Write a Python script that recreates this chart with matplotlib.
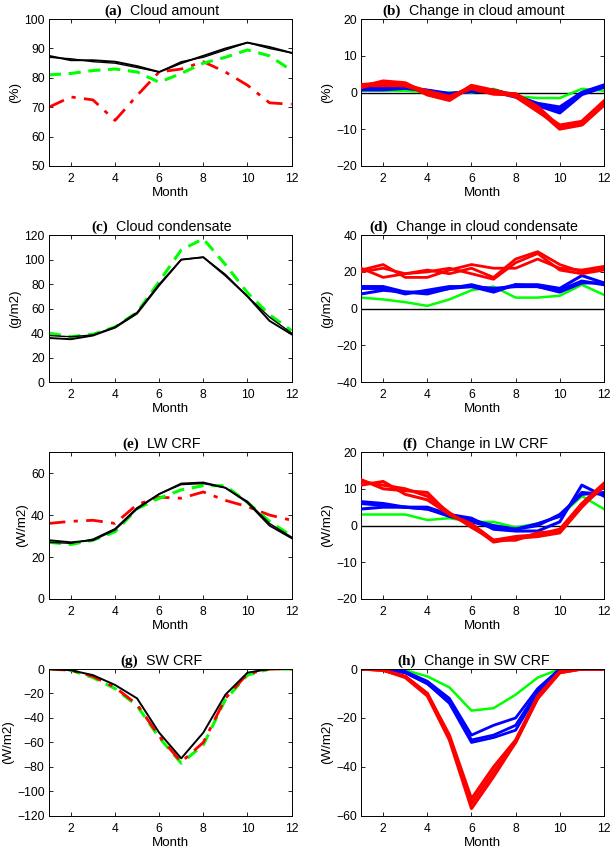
import matplotlib
matplotlib.use("Agg")
import matplotlib.pyplot as plt

plt.rcParams['font.family'] = ['Liberation Sans', 'DejaVu Sans']

months = list(range(1, 13))

# (a) cloud amount (%)
amt_obs1 = [87.5, 86, 86, 85.5, 84, 82, 85, 87.5, 90, 92, 90.5, 88.5]
amt_obs2 = [87, 86.5, 85.5, 85, 83.5, 82, 85.5, 87, 89.5, 92, 90, 88.5]
amt_green = [81, 81.5, 82.5, 83, 82, 78.5, 81.5, 85, 87, 89.5, 87.5, 82.5]
amt_red = [70, 73.5, 72.5, 65.5, 74, 82, 83, 85.5, 82, 77.5, 71.5, 71]

# (b) change in cloud amount (%)
damt_red = [[2, 2.5, 2, 0, -1.5, 1.5, 0, -0.5, -4, -9.5, -8.5, -3],
            [1.5, 3, 2.5, -0.5, -2, 1.8, 0.5, -1, -5, -9, -8, -2.5],
            [2, 2, 2, 0.3, -1.2, 1.2, -0.3, -0.5, -4.5, -9.8, -8.7, -3.3]]
damt_blue = [[1, 1, 1.5, 0.5, -0.5, 0.5, 0.5, -1, -3, -4, 0, 2],
             [1.3, 1.2, 1.5, 0.3, -0.8, 0.7, 0.3, -1.2, -3.5, -5.5, -0.5, 1.5],
             [0.8, 0.8, 1.2, 0.6, -0.3, 0.3, 0.6, -0.8, -3.2, -4.8, -0.2, 1.8]]
damt_green = [0.5, 0.5, 0.5, 0, 0, 0, 1, -1, -1.5, -1.5, 1, 0.5]

# (c) cloud condensate (g/m2)
cond_obs1 = [36, 35, 38, 44.5, 56, 79, 100, 102, 87, 70, 50, 39]
cond_obs2 = [38, 37, 38.5, 45, 57, 80, 100, 102, 88, 70, 53, 40]
cond_green = [40, 37, 39, 45, 57, 82, 108, 117, 96, 73, 55, 42]

# (d) change in cloud condensate (g/m2)
dcond_red = [[22, 17, 19, 21, 19, 22, 17, 27, 31, 24, 20, 22],
             [21, 24, 17, 17, 21, 24, 22, 22, 27, 22, 21, 23],
             [20, 22, 19, 20, 22, 19, 16, 25, 30, 21, 19, 21]]
dcond_blue = [[12, 12, 9, 9, 11, 13, 10, 13, 13, 11, 18, 14],
              [8, 10, 9, 8, 11, 12, 11, 12, 12, 9, 14, 14],
              [11, 11, 8, 10, 12, 12, 9, 13, 12, 10, 15, 13]]
dcond_green = [6, 5, 3.5, 1.5, 5, 10, 12, 6, 6, 7, 13, 7.5]

# (e) LW CRF (W/m2)
lw_obs1 = [28, 27, 28, 33, 43, 50, 55, 55.5, 53, 46, 35, 29]
lw_obs2 = [27, 26.5, 28.5, 33.5, 43.5, 50, 54.5, 55, 53, 46.5, 36, 29.5]
lw_green = [27, 26, 28, 32, 43, 48, 52, 54, 54, 46, 37, 30]
lw_red = [36, 37, 37.5, 36, 45, 48.5, 48, 51, 47, 44, 40, 37.5]

# (f) change in LW CRF (W/m2)
dlw_red = [[12.5, 10, 9.5, 9, 3, 0, -4.5, -3.5, -3, -2, 5, 11],
           [11, 12, 8.5, 7, 3, 0.5, -4, -3, -2.5, -1, 6, 11.5],
           [12, 11, 10, 8, 3.5, -0.5, -4, -4, -2, -1.5, 5.5, 10.5]]
dlw_blue = [[6.5, 6, 5, 5, 3, 2, -1, -1.5, -1.5, 1, 11, 8],
            [4.5, 5, 5, 4.5, 3, 1.5, 0, -1, 0, 3, 8.5, 9],
            [6, 5.5, 5, 4.5, 2.5, 1, -0.5, -1, 0.5, 2.5, 9, 8.5]]
dlw_green = [3, 3, 3, 1.5, 2, 1, 1, -0.5, 0.5, 2.5, 8, 4.5]

# (g) SW CRF (W/m2)
sw_obs = [0, -1, -5, -13, -24, -52, -73, -52, -21, -3, 0, 0]
sw_green = [0, -1, -7, -16, -30, -56, -77, -62, -25, -5, 0, 0]
sw_red = [0, -1, -6, -15, -29, -55, -76, -60, -24, -4, 0, 0]

# (h) change in SW CRF (W/m2)
dsw_red = [[0, -0.5, -3, -10, -28, -55, -42, -30, -12, -1.5, 0, 0],
           [0, -0.5, -3.5, -11, -29, -57, -44, -30, -12, -1.5, 0, 0],
           [0, -0.5, -3, -10, -27, -53, -40, -29, -11, -1, 0, 0]]
dsw_blue = [[0, 0, -1, -5, -12, -27, -23, -20, -8, 0, 0, 0],
            [0, 0, -1.5, -6, -13, -29, -27, -23, -9, -0.5, 0, 0],
            [0, 0, -1.5, -6, -14, -30, -28, -25, -10, -0.5, 0, 0]]
dsw_green = [0, 0, -0.5, -3, -7.5, -17, -16, -10.5, -3.5, 0, 0, 0]

RED = (1, 0, 0)
BLUE = (0, 0, 1)
GREEN = (0, 1, 0)

fig = plt.figure(figsize=(6.1, 8.49), dpi=100)

lefts = [0.080, 0.592]
bottoms = [0.8045, 0.550, 0.2945, 0.039]
w, h = 0.398, 0.173
axes = []
for b in bottoms:
    row = []
    for l in lefts:
        row.append(fig.add_axes([l, b, w, h]))
    axes.append(row)


def style(ax, lab, title, ylim, yticks, ylabel):
    ax.set_xlim(1, 12)
    ax.set_xticks([2, 4, 6, 8, 10, 12])
    ax.set_ylim(*ylim)
    ax.set_yticks(yticks)
    ax.set_yticklabels([str(t).replace('-', '\u2212') for t in yticks])
    ax.tick_params(direction='in', top=True, right=True, labelsize=8.7,
                   length=3, width=0.6)
    ax.tick_params(axis='x', pad=5)
    ax.tick_params(axis='y', pad=3)
    ax.set_xlabel('Month', fontsize=9.6, labelpad=1.5)
    ax.set_ylabel(ylabel, fontsize=9.6, labelpad=2)
    for s in ax.spines.values():
        s.set_linewidth(0.7)
    t = ax.set_title('  ' + title, fontsize=10.3, pad=3)
    ax.annotate(lab, xy=(0, 0), xycoords=t, ha='right', va='bottom',
                fontsize=11, fontweight='bold', family='Liberation Serif')


def change_panel(ax, reds, blues, green, lw_r=3.0, lw_b=2.5):
    ax.axhline(0, color='black', lw=1.0, zorder=1)
    ax.plot(months, green, color=GREEN, lw=1.8, zorder=2)
    for s in blues:
        ax.plot(months, s, color=BLUE, lw=lw_b, zorder=3)
    for s in reds:
        ax.plot(months, s, color=RED, lw=lw_r, zorder=4)


# (a)
ax = axes[0][0]
ax.plot(months, amt_red, color=RED, lw=2.0, ls='-.', dashes=(6, 3, 1.5, 3))
ax.plot(months, amt_green, color=GREEN, lw=2.2, ls='--', dashes=(4, 2.5))
ax.plot(months, amt_obs1, color='black', lw=1.4)
ax.plot(months, amt_obs2, color='black', lw=1.0)
style(ax, '(a)', 'Cloud amount', (50, 100), [50, 60, 70, 80, 90, 100], '(%)')

# (b)
ax = axes[0][1]
change_panel(ax, damt_red, damt_blue, damt_green)
style(ax, '(b)', 'Change in cloud amount', (-20, 20), [-20, -10, 0, 10, 20], '(%)')

# (c)
ax = axes[1][0]
ax.plot(months, cond_green, color=GREEN, lw=2.2, ls='--', dashes=(4, 2.5))
ax.plot(months, cond_obs1, color='black', lw=1.4)
ax.plot(months, cond_obs2, color='black', lw=1.0)
style(ax, '(c)', 'Cloud condensate', (0, 120), [0, 20, 40, 60, 80, 100, 120], '(g/m2)')

# (d)
ax = axes[1][1]
change_panel(ax, dcond_red, dcond_blue, dcond_green, lw_r=2.0, lw_b=2.2)
style(ax, '(d)', 'Change in cloud condensate', (-40, 40), [-40, -20, 0, 20, 40], '(g/m2)')

# (e)
ax = axes[2][0]
ax.plot(months, lw_red, color=RED, lw=2.0, ls='-.', dashes=(6, 3, 1.5, 3))
ax.plot(months, lw_green, color=GREEN, lw=2.2, ls='--', dashes=(4, 2.5))
ax.plot(months, lw_obs1, color='black', lw=1.4)
ax.plot(months, lw_obs2, color='black', lw=1.0)
style(ax, '(e)', 'LW CRF', (0, 70), [0, 20, 40, 60], '(W/m2)')

# (f)
ax = axes[2][1]
change_panel(ax, dlw_red, dlw_blue, dlw_green, lw_r=2.2, lw_b=2.2)
style(ax, '(f)', 'Change in LW CRF', (-20, 20), [-20, -10, 0, 10, 20], '(W/m2)')

# (g)
ax = axes[3][0]
ax.plot(months, sw_green, color=GREEN, lw=2.2, ls='--', dashes=(4, 2.5))
ax.plot(months, sw_red, color=RED, lw=2.0, ls='-.', dashes=(6, 3, 1.5, 3))
ax.plot(months, sw_obs, color='black', lw=1.4)
style(ax, '(g)', 'SW CRF', (-120, 0), [-120, -100, -80, -60, -40, -20, 0], '(W/m2)')

# (h)
ax = axes[3][1]
ax.plot(months, dsw_green, color=GREEN, lw=1.8)
for s in dsw_blue:
    ax.plot(months, s, color=BLUE, lw=2.0)
for s in dsw_red:
    ax.plot(months, s, color=RED, lw=2.2)
style(ax, '(h)', 'Change in SW CRF', (-60, 0), [-60, -40, -20, 0], '(W/m2)')

fig.savefig('out.png', dpi=100)
